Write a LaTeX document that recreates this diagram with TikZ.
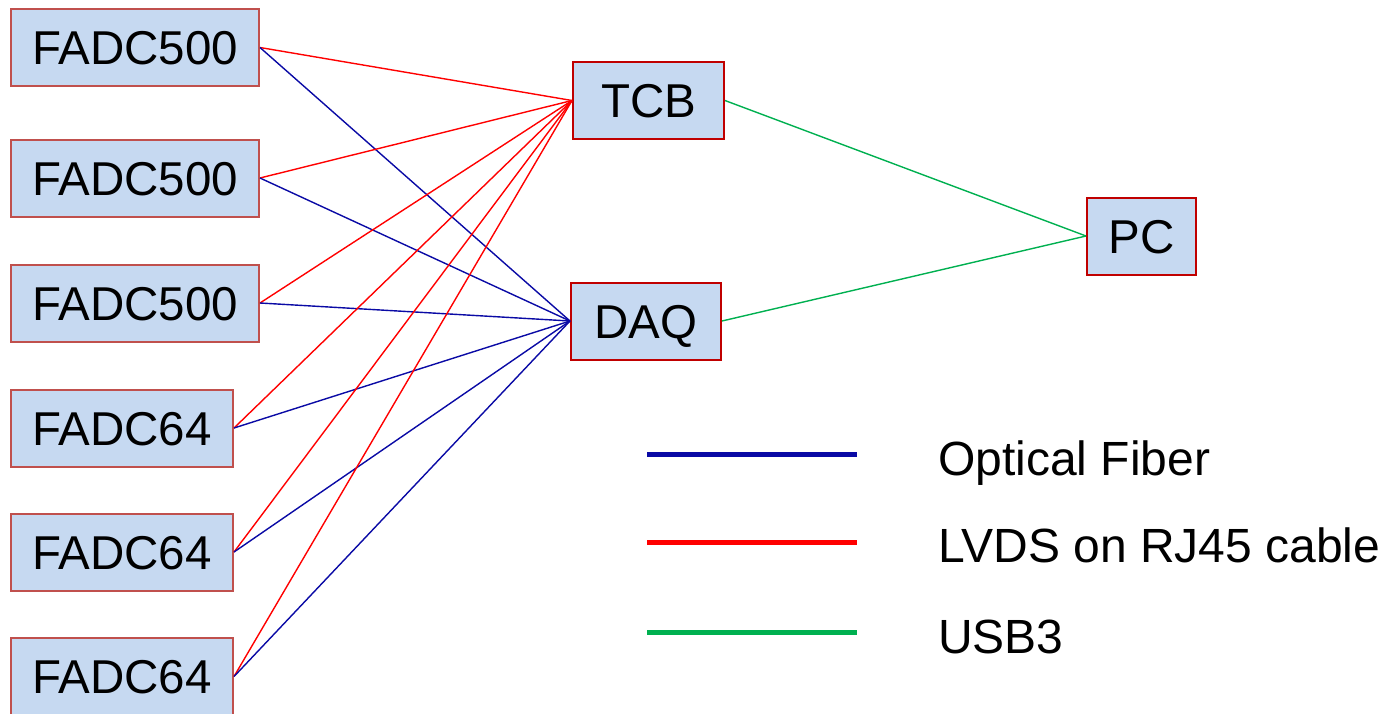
\documentclass[tikz,border=0pt]{standalone}
\usepackage{fontspec}
\setmainfont{Liberation Sans}
\definecolor{boxfill}{HTML}{C6D9F1}
\definecolor{fadcedge}{HTML}{C0504D}
\definecolor{modedge}{HTML}{C00000}
\definecolor{fiberblue}{HTML}{0A0AA5}
\definecolor{lvdsred}{HTML}{FF0000}
\definecolor{usbgreen}{HTML}{00B050}
\begin{document}
\begin{tikzpicture}[x=1pt, y=-1pt,
	box/.style={ draw=fadcedge, line width=2pt, fill=boxfill, inner sep=0pt, minimum height=77pt, font=\fontsize{47.5}{56}\selectfont, text height=34pt, text depth=0pt },
	modbox/.style={ box, draw=modedge },
	fiber/.style={ fiberblue, line width=1.4pt },
	lvds/.style={ lvdsred, line width=1.4pt },
	usb/.style={ usbgreen, line width=1.4pt },
	legendtxt/.style={ inner sep=0pt, anchor=base west, font=\fontsize{48}{56}\selectfont }
]
\useasboundingbox (0,0) rectangle (1387,713);

\node[box, minimum width=248pt] at (135,47.5) (fadc1) {FADC500};
\node[box, minimum width=248pt] at (135,178) (fadc2) {FADC500};
\node[box, minimum width=248pt] at (135,303) (fadc3) {FADC500};
\node[box, minimum width=222pt] at (122,428) (fadc4) {FADC64};
\node[box, minimum width=222pt] at (122,552) (fadc5) {FADC64};
\node[box, minimum width=222pt] at (122,676.5) (fadc6) {FADC64};

\node[modbox, minimum width=151pt] at (648.5,100.5) (tcb) {TCB};
\node[modbox, minimum width=150pt] at (646,321) (daq) {DAQ};
\node[modbox, minimum width=109pt] at (1141.5,236) (pc) {PC};

\foreach \i in {1,...,6} {
	\draw[lvds] (fadc\i.east) to (tcb.west);
	\draw[fiber] (fadc\i.east) to (daq.west);
}
\foreach \m in {tcb,daq} \draw[usb] (\m.east) to (pc.west);

% legend
\coordinate (leg1a) at (647,454);
\coordinate (leg1b) at (857,454);
\coordinate (leg2a) at (647,542);
\coordinate (leg2b) at (857,542);
\coordinate (leg3a) at (647,632);
\coordinate (leg3b) at (857,632);
\draw[fiber, line width=5pt] (leg1a) to (leg1b);
\draw[lvds, line width=5pt] (leg2a) to (leg2b);
\draw[usb, line width=5pt] (leg3a) to (leg3b);
\node[legendtxt] at (938,475) (leg1t) {Optical Fiber};
\node[legendtxt] at (938,562) (leg2t) {LVDS on RJ45 cable};
\node[legendtxt] at (938,653) (leg3t) {USB3};

\end{tikzpicture}
\end{document}
